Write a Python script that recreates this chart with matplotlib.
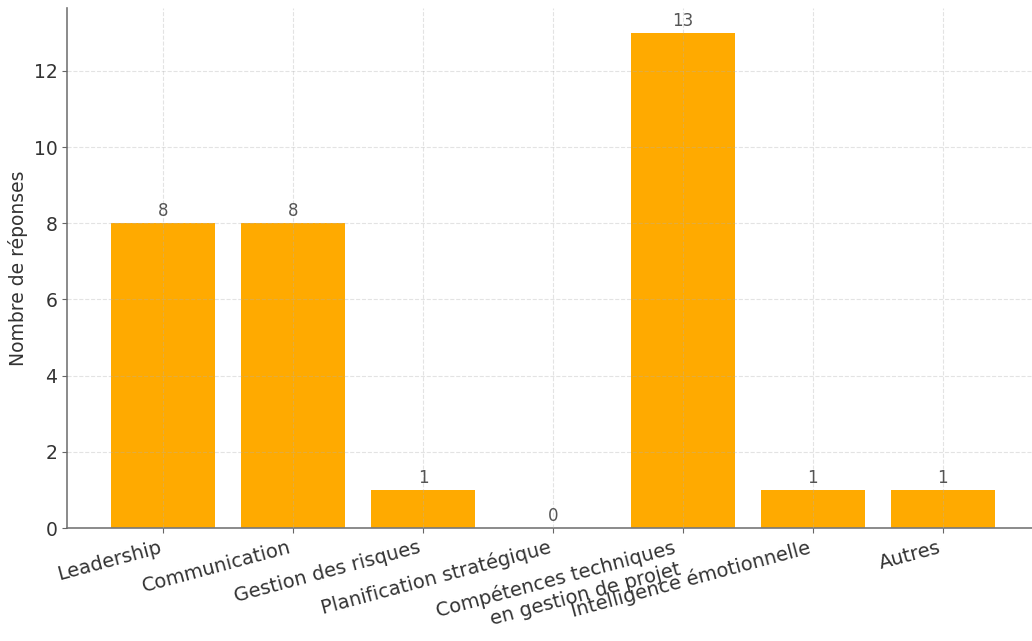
import matplotlib
matplotlib.use('Agg')
import matplotlib.pyplot as plt
import numpy as np

plt.rcParams['font.family'] = ['DejaVu Sans']

categories = ['Leadership', 'Communication', 'Gestion des risques',
              'Planification stratégique',
              'Compétences techniques\nen gestion de projet',
              'Intelligence émotionnelle', 'Autres']
responses = [8, 8, 1, 0, 13, 1, 1]

bar_color = '#ffaa00'
text_color = '#333333'

fig = plt.figure(figsize=(10.32, 6.41), dpi=100)
# axes run past the right edge of the figure
ax = fig.add_axes([67 / 1032, 1 - 528 / 641, (1039 - 67) / 1032, (528 - 8) / 641])

x = np.arange(len(categories))
rects = ax.bar(x, responses, width=0.8, color=bar_color)

ax.set_axisbelow(False)
ax.grid(True, linestyle='--', color='#b0b0b0', alpha=0.35, linewidth=0.8)

for rect, v in zip(rects, responses):
    ax.text(rect.get_x() + rect.get_width() / 2., v + 0.08, '%d' % v,
            ha='center', va='bottom', fontsize=12, color='#555555')

ax.set_xticks(x)
ax.set_xticklabels(categories, rotation=15, ha='right', fontsize=14, color=text_color)
ax.tick_params(axis='y', labelsize=13.5, labelcolor=text_color, color='#666666')
ax.tick_params(axis='x', color='#666666')
ax.set_ylabel('Nombre de réponses', fontsize=13.5, color=text_color)

for side in ['top', 'right']:
    ax.spines[side].set_visible(False)
for side in ['left', 'bottom']:
    ax.spines[side].set_color('#777777')
    ax.spines[side].set_linewidth(1.2)

fig.savefig('out.png', dpi=100)
